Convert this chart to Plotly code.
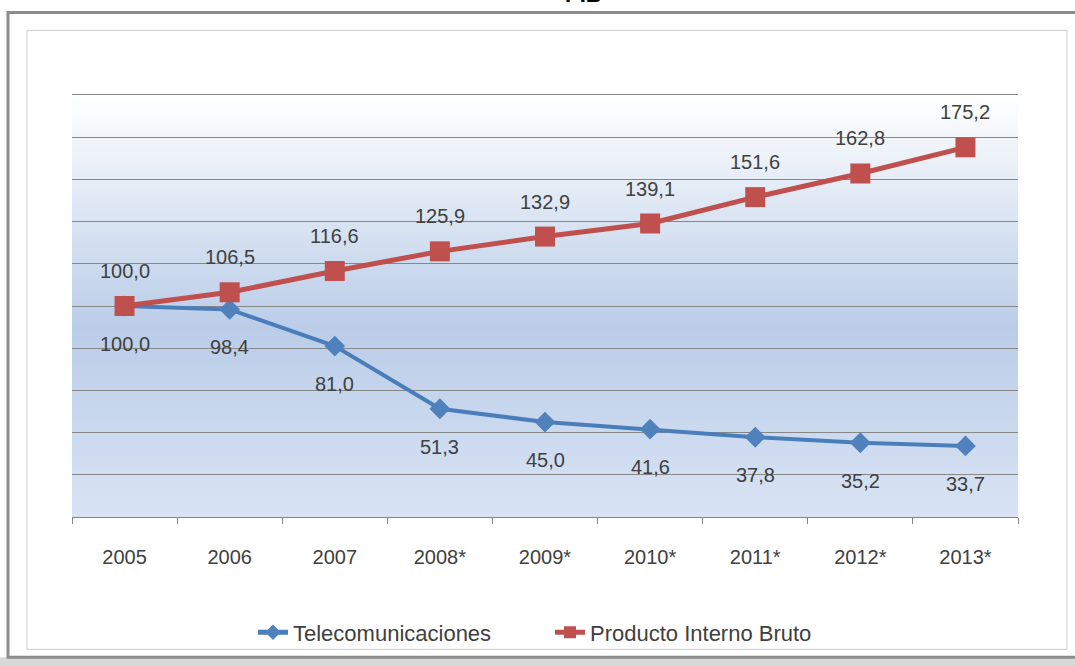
import plotly.graph_objects as go

years = ["2005", "2006", "2007", "2008*", "2009*", "2010*", "2011*", "2012*", "2013*"]
telecom = [100.0, 98.4, 81.0, 51.3, 45.0, 41.6, 37.8, 35.2, 33.7]
pib = [100.0, 106.5, 116.6, 125.9, 132.9, 139.1, 151.6, 162.8, 175.2]

RED = "#c0504d"
BLUE = "#4a7ebb"
TXT = "#404040"
FONT = "Liberation Sans, Arial, sans-serif"

# plot area in page pixels
L, R, T, B = 72, 1018, 95, 519
W, H = 1075, 666


def px_x(px):
    return (px - L) / (R - L)


def px_y(py):
    return (B - py) / (B - T)


def fmt(v):
    return f"{v:.1f}".replace(".", ",")


fig = go.Figure()

fig.add_trace(go.Scatter(
    x=years, y=telecom, mode="lines+markers", name="Telecomunicaciones",
    line=dict(color=BLUE, width=4),
    marker=dict(symbol="diamond", size=16, color="#4f81bd"),
))
fig.add_trace(go.Scatter(
    x=years, y=pib, mode="lines+markers", name="Producto Interno Bruto",
    line=dict(color=RED, width=5),
    marker=dict(symbol="square", size=20, color=RED),
))

# data labels (x given as category index, "2005" would be read as a number)
for i, v in enumerate(pib):
    fig.add_annotation(x=i, y=v, text=fmt(v), showarrow=False, yshift=35,
                       font=dict(size=20, color=TXT, family=FONT))
for i, v in enumerate(telecom):
    fig.add_annotation(x=i, y=v, text=fmt(v), showarrow=False, yshift=-38,
                       font=dict(size=20, color=TXT, family=FONT))

# background gradient of the plot area
shapes = []
n = 120


def lerp(c1, c2, t):
    return tuple(round(a + (b - a) * t) for a, b in zip(c1, c2))


top_c, mid_c, bot_c = (255, 255, 255), (186, 205, 232), (217, 227, 244)
for i in range(n):
    t = (i + 0.5) / n  # 0 at top
    c = lerp(top_c, mid_c, t / 0.55) if t < 0.55 else lerp(mid_c, bot_c, (t - 0.55) / 0.45)
    shapes.append(dict(
        type="rect", xref="paper", yref="paper", layer="below",
        x0=0, x1=1, y0=max(0, 1 - (i + 1.6) / n), y1=1 - i / n,
        fillcolor="rgb(%d,%d,%d)" % c, line=dict(width=0),
    ))

# chart frame
frame = [
    dict(type="rect", xref="paper", yref="paper", layer="below",
         x0=px_x(0), x1=px_x(W + 10), y0=px_y(H + 10), y1=px_y(660),
         fillcolor="#d8d8d8", line=dict(width=0)),
    dict(type="rect", xref="paper", yref="paper", layer="below",
         x0=px_x(8), x1=px_x(W + 10), y0=px_y(660), y1=px_y(12),
         fillcolor="white", line=dict(color="#8c8c8c", width=3)),
    dict(type="rect", xref="paper", yref="paper", layer="below",
         x0=px_x(27), x1=px_x(1067), y0=px_y(652), y1=px_y(30),
         fillcolor="rgba(0,0,0,0)", line=dict(color="#cccccc", width=1)),
]
shapes = frame + shapes

# chart title, only its lower edge is visible at the top of the picture
fig.add_annotation(xref="paper", yref="paper", x=px_x(583), y=px_y(9),
                   yanchor="bottom", showarrow=False, text="<b>PIB</b>",
                   font=dict(size=22, color="black", family=FONT))

fig.update_layout(
    width=W, height=H,
    margin=dict(l=L, r=W - R, t=T, b=H - B),
    paper_bgcolor="white",
    plot_bgcolor="rgba(0,0,0,0)",
    shapes=shapes,
    showlegend=True,
    legend=dict(orientation="h", x=px_x(550), xanchor="center", y=px_y(635), yanchor="middle",
                font=dict(size=22, color=TXT, family=FONT), bgcolor="rgba(0,0,0,0)",
                itemsizing="constant", entrywidth=252),
    font=dict(family=FONT, color=TXT),
)
fig.update_xaxes(
    type="category", categoryorder="array", categoryarray=years,
    range=[-0.5, len(years) - 0.5],
    tickson="boundaries", ticks="outside", ticklen=6,
    tickcolor="#878787", showline=True, mirror=True, linecolor="#878787", linewidth=1,
    showgrid=False, ticklabelstandoff=22,
    tickfont=dict(size=20, color=TXT, family=FONT),
)
fig.update_yaxes(
    range=[0, 200], dtick=20, showticklabels=False, showgrid=True,
    gridcolor="#878787", gridwidth=1, zeroline=False, showline=False,
)

fig.write_html("out.html", config={"displayModeBar": False},
               post_script="document.body.style.margin='0';")
